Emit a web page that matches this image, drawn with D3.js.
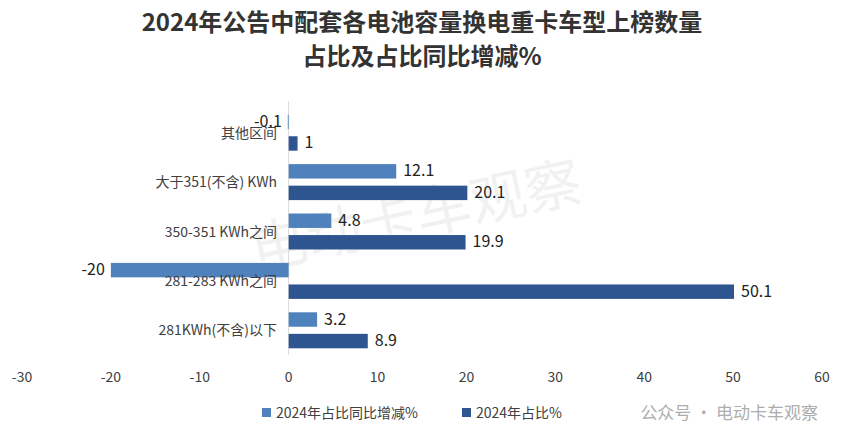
<!DOCTYPE html>
<html><head><meta charset="utf-8">
<script src="https://cdn.jsdelivr.net/npm/d3@7"></script>
<style>body{margin:0;background:#fff;font-family:"Noto Sans CJK SC","Noto Sans",sans-serif}</style>
</head><body>
<script>
let width = 845, height = 447

// data
let categories = ["其他区间", "大于351(不含) KWh", "350-351 KWh之间", "281-283 KWh之间", "281KWh(不含)以下"]
let changeVals = [-0.1, 12.1, 4.8, -20, 3.2]
let shareVals = [1, 20.1, 19.9, 50.1, 8.9]
let seriesNames = ["2024年占比同比增减%", "2024年占比%"]
let colors = ["#4f81bd", "#2e5590"]
let xTicks = [-30, -20, -10, 0, 10, 20, 30, 40, 50, 60]

var svg = d3.select("body").append("svg").attr("width", width).attr("height", height)

var x = d3.scaleLinear().domain([-30, 60]).range([22, 822])
var y = d3.scaleBand().domain(categories).range([108, 355])
var bw = y.bandwidth()
var inner = d3.scaleBand().domain([0, 1]).range([bw / 2 - 18, bw / 2 + 18]).paddingInner(0.33)

svg.append("text").attr("x", 422).attr("y", 31).attr("text-anchor", "middle")
    .style("font-size", "24px").style("font-weight", "bold").attr("fill", "#333")
    .text("2024年公告中配套各电池容量换电重卡车型上榜数量")
svg.append("text").attr("x", 422).attr("y", 65).attr("text-anchor", "middle")
    .style("font-size", "24px").style("font-weight", "bold").attr("fill", "#333")
    .text("占比及占比同比增减%")

// watermark
svg.append("text").attr("x", 420).attr("y", 235).attr("text-anchor", "middle")
    .attr("transform", "rotate(-12,420,235)")
    .style("font-size", "56px").attr("fill", "#000").attr("opacity", 0.05).text("电动卡车观察")

svg.append("line").attr("x1", x(0)).attr("x2", x(0)).attr("y1", 101).attr("y2", 355)
    .attr("stroke", "#d9d9d9")

let series = [changeVals, shareVals]
series.forEach((vals, s) => {
    var g = svg.append("g")
    g.selectAll("rect").data(vals).enter().append("rect")
        .attr("x", d => x(Math.min(0, d)))
        .attr("width", d => Math.abs(x(d) - x(0)))
        .attr("y", (d, i) => y(categories[i]) + inner(s))
        .attr("height", inner.bandwidth())
        .attr("fill", colors[s])
    g.selectAll("text").data(vals).enter().append("text")
        .attr("x", d => d < 0 ? x(d) - 6 : x(d) + 7)
        .attr("y", (d, i) => y(categories[i]) + inner(s) + inner.bandwidth() / 2 + 5)
        .attr("text-anchor", d => d < 0 ? "end" : "start")
        .style("font-size", "16px").attr("fill", "#222")
        .text(d => d)
})

svg.selectAll(".cat").data(categories).enter().append("text")
    .attr("x", 277).attr("y", d => y(d) + bw / 2 + 5)
    .attr("text-anchor", "end").style("font-size", "14px").attr("fill", "#404040")
    .text(d => d)

svg.selectAll(".tick").data(xTicks).enter().append("text")
    .attr("x", d => x(d)).attr("y", 382).attr("text-anchor", "middle")
    .style("font-size", "14px").attr("fill", "#404040").text(d => d)

let lx = [262, 462]
seriesNames.forEach((n, i) => {
    svg.append("rect").attr("x", lx[i]).attr("y", 408).attr("width", 9).attr("height", 9).attr("fill", colors[i])
    svg.append("text").attr("x", lx[i] + 14).attr("y", 418).style("font-size", "14px").attr("fill", "#404040").text(n)
})

svg.append("text").attr("x", 818).attr("y", 419).attr("text-anchor", "end")
    .style("font-size", "17px").attr("fill", "#999").attr("opacity", 0.8).text("公众号 · 电动卡车观察")
</script>
</body></html>
